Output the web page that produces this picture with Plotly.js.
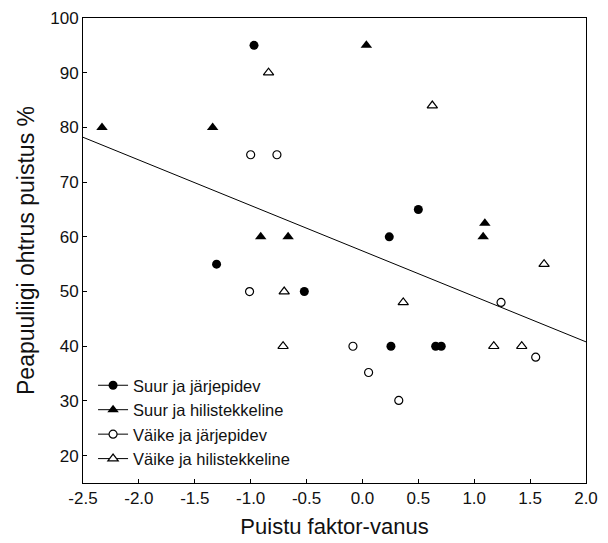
<!DOCTYPE html>
<html>
<head>
<meta charset="utf-8">
<script src="https://cdn.plot.ly/plotly-3.0.1.min.js"></script>
<style>html,body{margin:0;padding:0;background:#fff;}#chart{width:608px;height:543px;}</style>
</head>
<body>
<div id="chart"></div>
<script>
// Suur ja järjepidev (filled circles)
var suurJarjX = [-0.97, -1.305, -0.52, 0.24, 0.50, 0.255, 0.655, 0.705];
var suurJarjY = [95, 55, 50, 60, 65, 40, 40, 40];
// Suur ja hilistekkeline (filled triangles)
var suurHilX = [-2.33, -1.34, 0.035, -0.91, -0.665, 1.095, 1.08];
var suurHilY = [80, 80, 95, 60, 60, 62.5, 60];
// Väike ja järjepidev (open circles)
var vaikeJarjX = [-1.0, -0.765, -1.01, -0.085, 0.055, 0.325, 1.24, 1.55];
var vaikeJarjY = [75, 75, 50, 40, 35.2, 30.1, 48, 38];
// Väike ja hilistekkeline (open triangles)
var vaikeHilX = [-0.84, 0.625, -0.70, 0.365, -0.71, 1.175, 1.425, 1.625];
var vaikeHilY = [90, 84, 50, 48, 40, 40, 40, 55];
// Regression line endpoints
var fitX = [-2.5, 2.0];
var fitY = [78.2, 40.8];
// Tick labels
var xTicks = [-2.5, -2.0, -1.5, -1.0, -0.5, 0.0, 0.5, 1.0, 1.5, 2.0];
var yTicks = [20, 30, 40, 50, 60, 70, 80, 90, 100];

function gaps(a){var o=[];a.forEach(function(v,i){if(i>0)o.push(null);o.push(v);});return o;}

var FONT = 'Arial, "Liberation Sans", sans-serif';
function series(name, xs, ys, symbol, filled, size){
  return {
    type:'scatter', mode:'lines+markers', name:name,
    x:gaps(xs), y:gaps(ys), connectgaps:false,
    line:{color:'#000', width:1},
    marker:{symbol:symbol, size:size, color: filled ? '#000' : '#fff',
            line:{color:'#000', width: filled ? 0 : 1.2}},
    hoverinfo:'x+y'
  };
}

var traces = [
  {type:'scatter', mode:'lines', x:fitX, y:fitY, showlegend:false,
   line:{color:'#000', width:1}, hoverinfo:'skip'},
  series('Suur ja järjepidev', suurJarjX, suurJarjY, 'circle', true, 9),
  series('Suur ja hilistekkeline', suurHilX, suurHilY, 'triangle-up', true, 10),
  series('Väike ja järjepidev', vaikeJarjX, vaikeJarjY, 'circle', false, 8),
  series('Väike ja hilistekkeline', vaikeHilX, vaikeHilY, 'triangle-up', false, 9)
];

var layout = {
  width:608, height:543,
  margin:{l:83, r:22, t:18, b:60},
  paper_bgcolor:'#fff', plot_bgcolor:'#fff',
  font:{family:FONT, color:'#111', size:16},
  showlegend:true,
  legend:{x:0.02, y:0.015, xanchor:'left', yanchor:'bottom',
          bgcolor:'rgba(0,0,0,0)', borderwidth:0,
          font:{family:FONT, size:16.5, color:'#111'},
          itemwidth:30, tracegroupgap:0},
  xaxis:{
    range:[-2.5, 2.0], tickvals:xTicks, ticktext:xTicks.map(function(v){return v.toFixed(1);}),
    ticks:'inside', ticklen:4, tickcolor:'#000', tickwidth:1,
    showline:true, linecolor:'#000', linewidth:1, mirror:true,
    showgrid:false, zeroline:false,
    tickfont:{family:FONT, size:17, color:'#111'},
    title:{text:'Puistu faktor-vanus', font:{family:FONT, size:22, color:'#111'}, standoff:11}
  },
  yaxis:{
    range:[15, 100], tickvals:yTicks, ticktext:yTicks.map(String),
    ticks:'inside', ticklen:4, tickcolor:'#000', tickwidth:1,
    showline:true, linecolor:'#000', linewidth:1, mirror:true,
    showgrid:false, zeroline:false,
    tickfont:{family:FONT, size:17, color:'#111'},
    title:{text:'Peapuuliigi ohtrus puistus %', font:{family:FONT, size:23, color:'#111'}, standoff:9}
  }
};

Plotly.newPlot('chart', traces, layout, {displayModeBar:false, staticPlot:true});
</script>
</body>
</html>
